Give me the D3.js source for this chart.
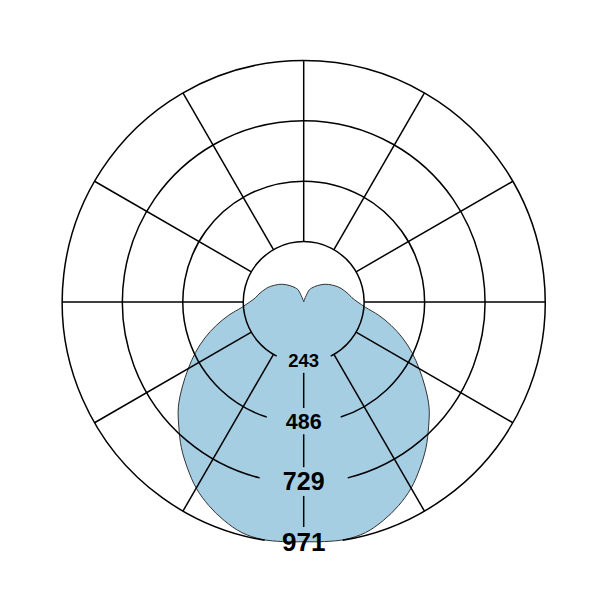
<!DOCTYPE html>
<html>
<head>
<meta charset="utf-8">
<script src="https://cdn.jsdelivr.net/npm/d3@7"></script>
<style>
  body { margin: 0; background: #fff; }
  svg { display: block; }
</style>
</head>
<body>
<svg id="chart" width="601" height="601"></svg>
<script>
// gamma angle from nadir (deg), one half of the curve (mirrored for the other side)
var gamma = [0, 5, 10, 15, 20, 25, 30, 35, 40, 45, 50, 55, 60, 65, 70, 75, 80, 85, 90,
             95, 100, 105, 110, 115, 120, 125, 130, 135, 140, 145, 150, 155, 160, 165, 170, 175, 180];
var intensity = [964, 967, 969, 960, 935, 903, 864, 815, 765, 710, 658, 596, 536, 480, 423, 364, 306, 250, 217,
                 195, 183, 171, 160, 148, 135, 123, 111, 98, 86, 75, 65, 55, 20, 6, 2, 1, 0];
var ringValues = [243, 486, 729, 971];
var ringLabels = ["243", "486", "729", "971"];
var spokeAngles = [0, 30, 60, 90, 120, 150, 180, 210, 240, 270, 300, 330];

var cx = 303.7, cy = 302, R = 241.5;
var labelSizes = [18.5, 21.5, 25, 26];
var gapHalf = [27, 37, 44, 39];

var svg = d3.select("#chart");
var g = svg.append("g").attr("transform", "translate(" + cx + "," + cy + ")");

var r = d3.scaleLinear().domain([0, 971]).range([0, R]);
var rad = d => d * Math.PI / 180;

// full curve: mirror the half plane
var pts = [];
gamma.forEach((a, i) => pts.push([a, intensity[i]]));
for (var i = gamma.length - 2; i > 0; i--) pts.push([360 - gamma[i], intensity[i]]);

// lineRadial: angle 0 = up, clockwise; nadir = 180
var curve = d3.lineRadial()
    .angle(d => rad(180 - d[0]))
    .radius(d => r(d[1]))
    .curve(d3.curveCatmullRomClosed.alpha(0.5));

g.append("path")
  .attr("d", curve(pts))
  .attr("fill", "#a6cee3")
  .attr("stroke", "#333")
  .attr("stroke-width", 1);

// rings with a gap at the bottom for the labels
ringValues.forEach((v, i) => {
  var rr = r(v);
  var ga = Math.asin(Math.min(1, gapHalf[i] / rr));
  var p = d3.path();
  p.arc(0, 0, rr, Math.PI / 2 + ga, Math.PI / 2 - ga + 2 * Math.PI, false);
  g.append("path")
    .attr("d", p.toString())
    .attr("fill", "none")
    .attr("stroke", "#000")
    .attr("stroke-width", 1.5);
});

// spokes from the first ring to the outer ring (nadir spoke drawn between labels)
var r0 = r(ringValues[0]);
spokeAngles.filter(a => a !== 0).forEach(a => {
  var t = rad(a);
  g.append("line")
    .attr("x1", r0 * Math.sin(t)).attr("y1", r0 * Math.cos(t))
    .attr("x2", R * Math.sin(t)).attr("y2", R * Math.cos(t))
    .attr("stroke", "#000")
    .attr("stroke-width", 1.5);
});

var capH = labelSizes.map(s => s * 0.69);
var labelR = ringValues.map(v => r(v) - 1.5);
for (var k = 0; k < ringValues.length - 1; k++) {
  g.append("line")
    .attr("x1", 0).attr("x2", 0)
    .attr("y1", labelR[k] + capH[k] / 2 + 5.5)
    .attr("y2", labelR[k + 1] - capH[k + 1] / 2 - 6)
    .attr("stroke", "#000")
    .attr("stroke-width", 1.5);
}

g.selectAll("text.lbl")
  .data(ringValues)
  .join("text")
  .attr("class", "lbl")
  .attr("x", 0)
  .attr("y", (d, i) => labelR[i] + capH[i] / 2)
  .attr("text-anchor", "middle")
  .attr("font-family", "'Liberation Sans', Arial, sans-serif")
  .attr("font-weight", "bold")
  .attr("font-size", (d, i) => labelSizes[i])
  .attr("fill", "#000")
  .text((d, i) => ringLabels[i]);
</script>
</body>
</html>
